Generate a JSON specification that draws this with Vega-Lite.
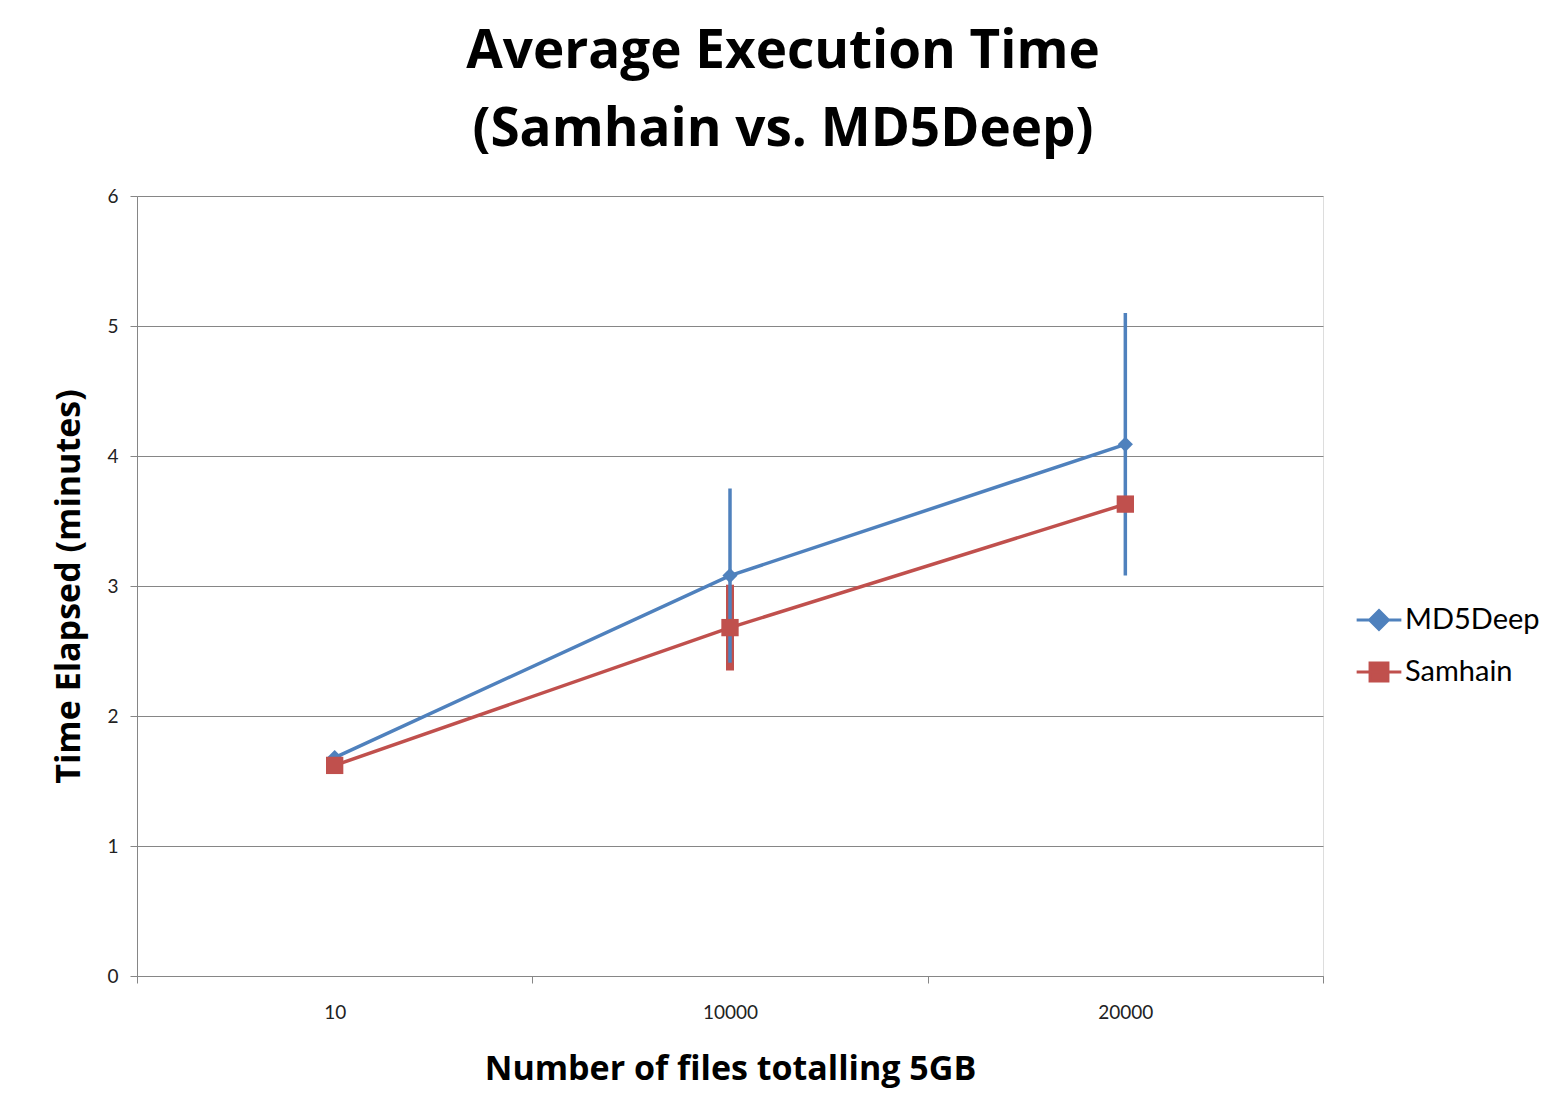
{
  "$schema": "https://vega.github.io/schema/vega-lite/v6.json",
  "width": 1186,
  "height": 780,
  "autosize": {"type": "none"},
  "padding": {"left": 137, "top": 196, "right": 224, "bottom": 125},
  "background": "white",
  "title": {
    "text": ["Average Execution Time", "(Samhain vs. MD5Deep)"],
    "font": "Open Sans", "fontSize": 53, "fontWeight": "bold", "color": "#000000",
    "anchor": "middle", "dx": 53, "lineHeight": 78, "offset": 30
  },
  "data": {"values": [
    {"files": "10", "series": "MD5Deep", "time": 1.68, "lo": 1.66, "hi": 1.70},
    {"files": "10000", "series": "MD5Deep", "time": 3.08, "lo": 2.41, "hi": 3.75},
    {"files": "20000", "series": "MD5Deep", "time": 4.09, "lo": 3.08, "hi": 5.10},
    {"files": "10", "series": "Samhain", "time": 1.62, "lo": 1.57, "hi": 1.67},
    {"files": "10000", "series": "Samhain", "time": 2.68, "lo": 2.35, "hi": 3.01},
    {"files": "20000", "series": "Samhain", "time": 3.63, "lo": 3.63, "hi": 3.63}
  ]},
  "encoding": {
    "x": {
      "field": "files", "type": "ordinal", "sort": ["10", "10000", "20000"],
      "bandPosition": 0.5,
      "scale": {"type": "band", "paddingInner": 0, "paddingOuter": 0},
      "axis": {
        "tickBand": "extent", "tickSize": 7, "domainColor": "#868686", "tickColor": "#868686",
        "labelAngle": 0, "labelFont": "Lato", "labelFontSize": 19, "labelColor": "#222222", "labelPadding": 20,
        "title": "Number of files totalling 5GB", "titleFont": "Open Sans", "titleFontSize": 34,
        "titleFontWeight": "bold", "titleColor": "#000000", "titlePadding": 30, "grid": false
      }
    }
  },
  "layer": [
    {
      "transform": [{"filter": "datum.series === 'Samhain'"}],
      "mark": {"type": "rule", "color": "#C0504D", "strokeWidth": 8},
      "encoding": {
        "y": {"field": "lo", "type": "quantitative"},
        "y2": {"field": "hi"}
      }
    },
    {
      "transform": [{"filter": "datum.series === 'MD5Deep'"}],
      "mark": {"type": "rule", "color": "#4F81BD", "strokeWidth": 3.5},
      "encoding": {
        "y": {"field": "lo", "type": "quantitative"},
        "y2": {"field": "hi"}
      }
    },
    {
      "mark": {"type": "line", "strokeWidth": 3.5},
      "encoding": {
        "y": {
          "field": "time", "type": "quantitative",
          "scale": {"domain": [0, 6]},
          "axis": {
            "values": [0, 1, 2, 3, 4, 5, 6], "format": "d", "grid": true, "gridColor": "#868686", "gridWidth": 1,
            "domainColor": "#868686", "tickColor": "#868686", "tickSize": 7,
            "labelFont": "Lato", "labelFontSize": 19, "labelColor": "#222222", "labelPadding": 12,
            "title": "Time Elapsed (minutes)", "titleFont": "Open Sans", "titleFontSize": 34,
            "titleFontWeight": "bold", "titleColor": "#000000", "titlePadding": 20
          }
        },
        "color": {
          "field": "series", "type": "nominal",
          "scale": {"domain": ["MD5Deep", "Samhain"], "range": ["#4F81BD", "#C0504D"]},
          "legend": {
            "title": null, "orient": "none", "legendX": 1218, "legendY": 400,
            "symbolSize": 2000, "symbolStrokeWidth": 3,
            "labelFont": "Lato", "labelFontSize": 29, "labelColor": "#000000", "labelOffset": 2, "rowPadding": 12,
            "encode": {
              "symbols": {
                "update": {
                  "shape": {"signal": "datum.value === 'MD5Deep' ? 'M-1,0H1M0,-0.42L0.42,0L0,0.42L-0.42,0Z' : 'M-1,0H1M-0.4,-0.4H0.4V0.4H-0.4Z'"},
                  "fill": {"signal": "datum.value === 'MD5Deep' ? '#4F81BD' : '#C0504D'"},
                  "stroke": {"signal": "datum.value === 'MD5Deep' ? '#4F81BD' : '#C0504D'"},
                  "strokeWidth": {"value": 3},
                  "opacity": {"value": 1}
                }
              }
            }
          }
        }
      }
    },
    {
      "transform": [{"filter": "datum.series === 'MD5Deep'"}],
      "mark": {"type": "point", "filled": true, "opacity": 1, "shape": "diamond", "size": 230},
      "encoding": {
        "y": {"field": "time", "type": "quantitative"},
        "color": {"field": "series", "type": "nominal"}
      }
    },
    {
      "transform": [{"filter": "datum.series === 'Samhain'"}],
      "mark": {"type": "point", "filled": true, "opacity": 1, "shape": "square", "size": 300},
      "encoding": {
        "y": {"field": "time", "type": "quantitative"},
        "color": {"field": "series", "type": "nominal"}
      }
    }
  ]
}
